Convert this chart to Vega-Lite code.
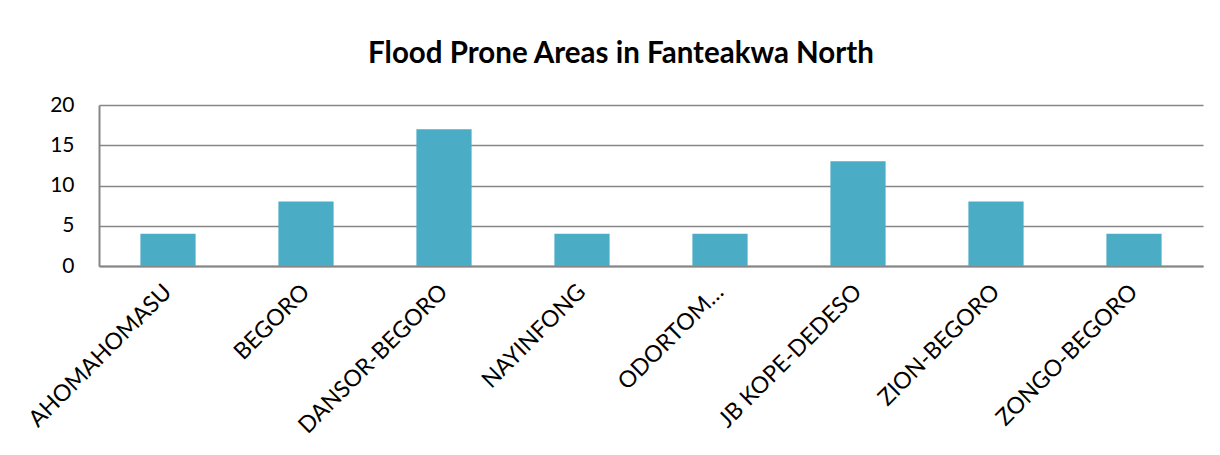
{
  "$schema": "https://vega.github.io/schema/vega-lite/v6.json",
  "autosize": "none",
  "width": 1104,
  "height": 161,
  "padding": {"left": 99, "top": 105, "right": 17, "bottom": 189},
  "background": "white",
  "title": {
    "text": "Flood Prone Areas in Fanteakwa North",
    "font": "Lato",
    "fontSize": 29.5,
    "fontWeight": "bold",
    "color": "#000000",
    "anchor": "middle",
    "dx": -30,
    "offset": 25
  },
  "data": {
    "values": [
      {"area": "AHOMAHOMASU", "count": 4},
      {"area": "BEGORO", "count": 8},
      {"area": "DANSOR-BEGORO", "count": 17},
      {"area": "NAYINFONG", "count": 4},
      {"area": "ODORTOM…", "count": 4},
      {"area": "JB KOPE-DEDESO", "count": 13},
      {"area": "ZION-BEGORO", "count": 8},
      {"area": "ZONGO-BEGORO", "count": 4}
    ]
  },
  "mark": {"type": "bar", "color": "#4BACC6"},
  "encoding": {
    "x": {
      "field": "area",
      "type": "nominal",
      "sort": null,
      "title": null,
      "scale": {"paddingInner": 0.6, "paddingOuter": 0.3},
      "axis": {
        "labelAngle": -45,
        "labelAlign": "right",
        "labelBaseline": "middle",
        "labelFont": "Lato",
        "labelFontSize": 23,
        "labelColor": "#000000",
        "labelPadding": 22,
        "labelLimit": 400,
        "ticks": false,
        "domainColor": "#868686",
        "domainWidth": 2,
        "grid": false
      }
    },
    "y": {
      "field": "count",
      "type": "quantitative",
      "title": null,
      "scale": {"domain": [0, 20], "nice": false},
      "axis": {
        "values": [0, 5, 10, 15, 20],
        "labelFont": "Lato",
        "labelFontSize": 21,
        "labelColor": "#000000",
        "labelPadding": 25,
        "ticks": false,
        "domainColor": "#868686",
        "domainWidth": 2,
        "gridColor": "#868686",
        "gridWidth": 1.5,
        "gridOpacity": 1
      }
    }
  },
  "config": {"view": {"stroke": null}}
}
